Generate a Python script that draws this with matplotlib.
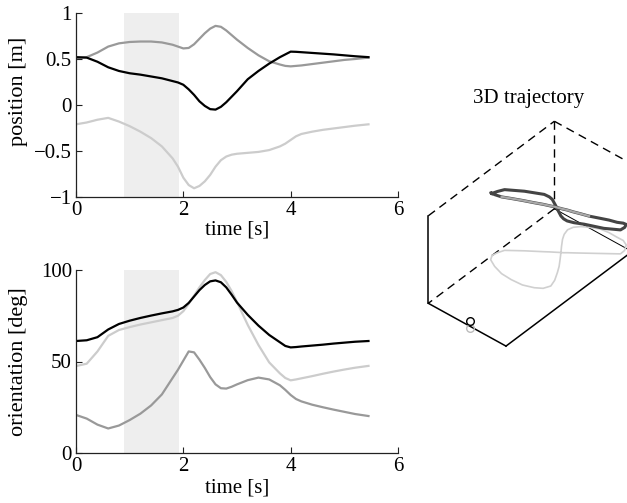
import matplotlib
matplotlib.use("Agg")
import matplotlib.pyplot as plt
import numpy as np
from matplotlib.ticker import FuncFormatter

plt.rcParams["font.family"] = ["Liberation Serif", "DejaVu Serif"]
plt.rcParams["font.size"] = 15

# ─── Data ─────────────────────────────────────────────────────────────

# sample times [s]
t = [0, 0.2, 0.4, 0.6, 0.8, 1.0, 1.2, 1.4, 1.6, 1.8, 1.9, 2.0, 2.1, 2.2,
     2.3, 2.4, 2.5, 2.6, 2.7, 2.8, 2.9, 3.0, 3.2, 3.4, 3.6, 3.8, 3.9, 4.0,
     4.1, 4.2, 4.4, 4.6, 4.8, 5.0, 5.2, 5.45]

# position [m]
pos_x = [0.52, 0.515, 0.47, 0.41, 0.37, 0.345, 0.33, 0.31, 0.29, 0.26, 0.245,
         0.22, 0.17, 0.11, 0.04, -0.01, -0.045, -0.05, -0.02, 0.03, 0.09, 0.15,
         0.28, 0.37, 0.45, 0.52, 0.55, 0.58, 0.578, 0.574, 0.566, 0.558, 0.55,
         0.54, 0.53, 0.52]
pos_y = [0.51, 0.52, 0.57, 0.635, 0.67, 0.685, 0.69, 0.69, 0.68, 0.655, 0.635,
         0.615, 0.62, 0.66, 0.72, 0.78, 0.83, 0.86, 0.85, 0.81, 0.76, 0.71,
         0.62, 0.54, 0.475, 0.44, 0.425, 0.42, 0.425, 0.43, 0.445, 0.46, 0.475,
         0.49, 0.5, 0.515]
pos_z = [-0.21, -0.19, -0.16, -0.14, -0.18, -0.23, -0.29, -0.36, -0.45, -0.58,
         -0.67, -0.79, -0.87, -0.905, -0.88, -0.83, -0.76, -0.67, -0.6, -0.56,
         -0.54, -0.53, -0.52, -0.51, -0.49, -0.45, -0.42, -0.38, -0.34, -0.315,
         -0.29, -0.27, -0.255, -0.24, -0.225, -0.21]

# orientation [deg]
ori_a = [61.2, 61.6, 63.3, 67.5, 70.5, 72.3, 73.8, 75.1, 76.3, 77.4, 78.2, 79.5,
         82, 85.5, 89, 91.8, 93.8, 94.3, 93.3, 90.5, 86.5, 82.2, 75.5, 69.6,
         64.5, 60.5, 58.5, 57.7, 57.9, 58.2, 58.7, 59.2, 59.8, 60.3, 60.8, 61.2]
ori_b = [47.5, 48.8, 55.5, 64, 67.2, 68.8, 70.2, 71.4, 72.6, 73.8, 75, 77.5,
         81.5, 86, 90.5, 94.5, 97.8, 98.8, 97.2, 93.5, 88.5, 82.5, 70, 59,
         49.5, 43.5, 41, 39.7, 40.2, 40.8, 42, 43.3, 44.5, 45.6, 46.6, 47.6]
ori_c = [20.8, 18.8, 15.5, 13.4, 15, 18, 21.5, 26, 32, 41, 45.5, 50.5, 55.5,
         55, 51, 46.5, 41.5, 37.5, 35.4, 35.2, 36.2, 37.5, 39.8, 41.2, 40.2, 37,
         34.5, 31.7, 29.5, 28.2, 26.4, 25, 23.7, 22.5, 21.3, 20.2]

# shaded time window [s]
window = (0.9, 1.92)

# 3D trajectory (normalised box coordinates), figure-eight loop
traj_x = [0.0, 0.012, 0.042, 0.194, 0.350, 0.389, 0.413, 0.442, 0.460, 0.482,
          0.504, 0.530, 0.583, 0.659, 0.810, 0.937, 0.934, 0.891, 0.825, 0.748,
          0.640, 0.545, 0.440, 0.372, 0.323, 0.306, 0.326, 0.363, 0.425, 0.482,
          0.543, 0.605, 0.654, 0.710, 0.738, 0.704, 0.632, 0.517, 0.380, 0.250,
          0.127, 0.032, 0.0]
traj_y = [0.505, 0.540, 0.579, 0.643, 0.704, 0.720, 0.729, 0.740, 0.747, 0.755,
          0.763, 0.775, 0.797, 0.829, 0.893, 0.947, 0.982, 1.021, 1.038, 1.037,
          1.038, 1.031, 1.004, 0.980, 0.950, 0.916, 0.877, 0.841, 0.795, 0.755,
          0.711, 0.665, 0.621, 0.565, 0.517, 0.477, 0.451, 0.428, 0.423, 0.427,
          0.448, 0.475, 0.505]
traj_z = [0.710, 0.700, 0.694, 0.681, 0.655, 0.629, 0.602, 0.528, 0.475, 0.418,
          0.387, 0.363, 0.345, 0.331, 0.288, 0.274, 0.263, 0.234, 0.198, 0.171,
          0.143, 0.123, 0.127, 0.146, 0.177, 0.225, 0.286, 0.347, 0.430, 0.504,
          0.583, 0.666, 0.743, 0.840, 0.914, 0.960, 0.971, 0.966, 0.927, 0.877,
          0.820, 0.766, 0.710]
highlight = (22, 40)          # index range drawn in mid grey
start_pt = (0.548, -0.01, 0.072)

BLACK, MID, LIGHT = "#000000", "#999999", "#cccccc"

# ─── Figure ───────────────────────────────────────────────────────────

W, H = 627, 503
fig = plt.figure(figsize=(W / 100, H / 100), dpi=100)


def _fmt(v, _):
    return f"{v:g}".replace("-", "\u2212")


def _style(ax, ylabel, ylim, yticks, ylab_xy, xlab_y):
    ax.axvspan(*window, color="#eeeeee", lw=0, zorder=0)
    ax.set_xlim(0, 6)
    ax.set_ylim(*ylim)
    ax.set_xticks([0, 2, 4, 6])
    ax.set_yticks(yticks)
    ax.yaxis.set_major_formatter(FuncFormatter(_fmt))
    for s in ("top", "right"):
        ax.spines[s].set_visible(False)
    for s in ("left", "bottom"):
        ax.spines[s].set_linewidth(0.9)
        ax.spines[s].set_color("#222222")
    ax.tick_params(direction="in", length=4, width=0.8, pad=3, colors="#222222",
                   labelcolor="black")
    ax.set_xlabel("time [s]")
    ax.set_ylabel(ylabel, fontsize=16)
    ax.yaxis.set_label_coords(*ylab_xy)
    ax.xaxis.set_label_coords(0.5, xlab_y)


ax1 = fig.add_axes([76 / W, 1 - 197 / H, 322 / W, 184 / H])
ax1.plot(t, pos_z, color=LIGHT, lw=1.6)
ax1.plot(t, pos_y, color=MID, lw=1.6)
ax1.plot(t, pos_x, color=BLACK, lw=1.6)
_style(ax1, "position [m]", (-1, 1), [-1, -0.5, 0, 0.5, 1], (-0.15, 0.575), -0.13)

ax2 = fig.add_axes([76 / W, 1 - 453 / H, 322 / W, 183 / H])
ax2.plot(t, ori_c, color=MID, lw=1.6)
ax2.plot(t, ori_b, color=LIGHT, lw=1.6)
ax2.plot(t, ori_a, color=BLACK, lw=1.6)
_style(ax2, "orientation [deg]", (0, 100), [0, 50, 100], (-0.15, 0.5), -0.14)

# ─── 3D trajectory ────────────────────────────────────────────────────

ax3 = fig.add_axes([0.62, 0.2, 300 / W, 300 / H], projection="3d")
ax3.set_proj_type("ortho")
ax3.view_init(elev=40, azim=-49.4)
ax3.set_box_aspect((103, 195, 115))
ax3.set_xlim(0, 1)
ax3.set_ylim(0, 1)
ax3.set_zlim(0, 1)
ax3.set_axis_off()

lo, hi = 0.0, 1.0
edges_dashed = [((lo, lo, hi), (lo, hi, hi)), ((lo, hi, hi), (lo, hi, lo)),
                ((lo, hi, lo), (lo, lo, lo)), ((lo, hi, hi), (hi, hi, hi)),
                ((hi, hi, hi), (hi, hi, lo))]
edges_solid = [((lo, lo, hi), (lo, lo, lo)), ((lo, lo, lo), (hi, lo, lo)),
               ((hi, lo, lo), (hi, hi, lo))]
edge_thin = ((lo, hi, lo), (hi, hi, lo))

ref_lines = []
for a, b in edges_dashed:
    ln, = ax3.plot(*zip(a, b), color="black", lw=1.0, ls=(0, (6, 4)), clip_on=False)
    ref_lines.append(ln)
for a, b in edges_solid:
    ln, = ax3.plot(*zip(a, b), color="black", lw=1.1, clip_on=False)
    ref_lines.append(ln)
ax3.plot(*zip(*edge_thin), color="black", lw=0.7, clip_on=False)

tx, ty, tz = np.array(traj_x), np.array(traj_y), np.array(traj_z)
ax3.plot(tx, ty, np.zeros_like(tz), color="#d0d0d0", lw=1.2, clip_on=False)
ax3.plot(tx, ty, tz, color="#444444", lw=2.2, clip_on=False)
i0, i1 = highlight
ax3.plot(tx[i0:i1], ty[i0:i1], tz[i0:i1], color="#a8a8a8", lw=1.6, clip_on=False)
ax3.plot([start_pt[0]], [start_pt[1]], [0], marker="o", ms=5.5, mfc="none",
         mec="#bbbbbb", mew=1.0, clip_on=False)
ax3.plot([start_pt[0]], [start_pt[1]], [start_pt[2]], marker="o", ms=5.5,
         mfc="white", mec="black", mew=1.0, clip_on=False)

# place the 3D box: corner (0,0,0) and (0,1,1) at their spots in the layout
fig.canvas.draw()
p_c = ax3.transData.transform(ref_lines[2].get_xydata()[1])   # (lo, lo, lo)
p_a = ax3.transData.transform(ref_lines[0].get_xydata()[1])   # (lo, hi, hi)
tgt_c = np.array([428.3, H - 303.3])
tgt_a = np.array([555.0, H - 121.7])
bb = ax3.get_position()
L0 = bb.width * W
o0 = np.array([bb.x0 * W, bb.y0 * H])
k = np.linalg.norm(tgt_a - tgt_c) / np.linalg.norm(p_a - p_c)
L1 = L0 * k
o1 = tgt_c - L1 * (p_c - o0) / L0
ax3.set_position([o1[0] / W, o1[1] / H, L1 / W, L1 / H])

fig.text(529 / W, 1 - 98 / H, "3D trajectory", ha="center", va="center")

fig.savefig("out.png", dpi=100)
